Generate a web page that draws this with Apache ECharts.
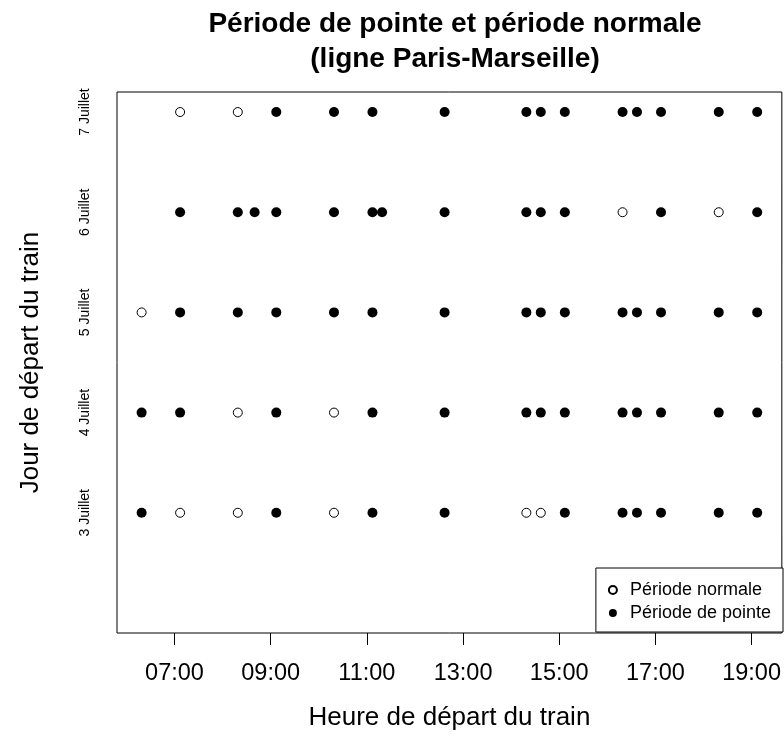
<!DOCTYPE html>
<html>
<head>
<meta charset="utf-8">
<script src="https://cdn.jsdelivr.net/npm/echarts@6/dist/echarts.min.js"></script>
<style>
html,body{margin:0;padding:0;background:#fff;}
#chart{width:784px;height:745px;}
</style>
</head>
<body>
<div id="chart"></div>
<script>
// Days (y categories, bottom to top)
const days = ['3 Juillet', '4 Juillet', '5 Juillet', '6 Juillet', '7 Juillet'];
// X tick labels
const xTicks = ['07:00', '09:00', '11:00', '13:00', '15:00', '17:00', '19:00'];

// Departure times per day: normal period (open circles)
const normal3 = ['07:07', '08:19', '10:19', '14:19', '14:37'];
const normal4 = ['08:19', '10:19'];
const normal5 = ['06:19'];
const normal6 = ['16:19', '18:19'];
const normal7 = ['07:07', '08:19'];

// Departure times per day: peak period (filled circles)
const pointe3 = ['06:19', '09:07', '11:07', '12:37', '15:07', '16:19', '16:37', '17:07', '18:19', '19:07'];
const pointe4 = ['06:19', '07:07', '09:07', '11:07', '12:37', '14:19', '14:37', '15:07', '16:19', '16:37', '17:07', '18:19', '19:07'];
const pointe5 = ['07:07', '08:19', '09:07', '10:19', '11:07', '12:37', '14:19', '14:37', '15:07', '16:19', '16:37', '17:07', '18:19', '19:07'];
const pointe6 = ['07:07', '08:19', '08:40', '09:07', '10:19', '11:07', '11:19', '12:37', '14:19', '14:37', '15:07', '17:07', '19:07'];
const pointe7 = ['09:07', '10:19', '11:07', '12:37', '14:19', '14:37', '15:07', '16:19', '16:37', '17:07', '18:19', '19:07'];

const normalByDay = [normal3, normal4, normal5, normal6, normal7];
const pointeByDay = [pointe3, pointe4, pointe5, pointe6, pointe7];

function toHours(s) { const p = s.split(':'); return +p[0] + (+p[1]) / 60; }
function build(byDay) {
  const out = [];
  byDay.forEach((arr, i) => arr.forEach(t => out.push([toHours(t), i + 1])));
  return out;
}
const normalData = build(normalByDay);
const pointeData = build(pointeByDay);

// R-style 4% axis extension
const allX = normalData.concat(pointeData).map(d => d[0]);
const xLo = Math.min(...allX), xHi = Math.max(...allX);
const xExt = (xHi - xLo) * 0.04;
const yExt = 5 * 0.04;

const FONT = '"Liberation Sans", Arial, sans-serif';
const chart = echarts.init(document.getElementById('chart'), null, { renderer: 'canvas' });
chart.setOption({
  animation: false,
  backgroundColor: '#fff',
  title: {
    text: 'Période de pointe et période normale\n(ligne Paris-Marseille)',
    left: 450,
    top: 2,
    textAlign: 'center',
    textStyle: { fontFamily: FONT, fontWeight: 'bold', fontSize: 28, lineHeight: 35, color: '#000' }
  },
  grid: {
    left: 117, right: 1, top: 92, bottom: 112,
    show: true, borderColor: '#000', borderWidth: 1, backgroundColor: 'transparent'
  },
  legend: {
    orient: 'vertical',
    right: 1,
    top: 568,
    backgroundColor: '#fff',
    borderColor: '#000',
    borderWidth: 1,
    borderRadius: 0,
    padding: [13, 12, 10, 12],
    itemWidth: 8,
    itemHeight: 8,
    itemGap: 5,
    z: 10,
    textStyle: { fontFamily: FONT, fontSize: 18, lineHeight: 18, color: '#000', padding: [0, 0, 0, 8] },
    data: ['Période normale', 'Période de pointe']
  },
  xAxis: {
    type: 'value',
    min: xLo - xExt,
    max: xHi + xExt,
    name: 'Heure de départ du train',
    nameLocation: 'middle',
    nameGap: 72,
    nameTextStyle: { fontFamily: FONT, fontSize: 26, color: '#000' },
    axisLine: { show: false, onZero: false },
    axisTick: { show: true, length: 12, lineStyle: { color: '#000', width: 1 }, customValues: xTicks.map(toHours) },
    axisLabel: {
      customValues: xTicks.map(toHours),
      margin: 29,
      fontFamily: FONT, fontSize: 23.5, color: '#000',
      formatter: v => { const h = Math.round(v); return (h < 10 ? '0' : '') + h + ':00'; }
    },
    splitLine: { show: false }
  },
  yAxis: {
    type: 'value',
    min: 0 - yExt,
    max: 5 + yExt,
    name: 'Jour de départ du train',
    nameLocation: 'middle',
    nameGap: 73,
    nameTextStyle: { fontFamily: FONT, fontSize: 26, color: '#000' },
    axisLine: { show: false, onZero: false },
    axisTick: { show: false },
    axisLabel: {
      customValues: [1, 2, 3, 4, 5],
      rotate: 90,
      margin: 25,
      fontFamily: FONT, fontSize: 14, color: '#000',
      formatter: v => days[Math.round(v) - 1] || ''
    },
    splitLine: { show: false }
  },
  series: [
    {
      name: 'Période normale',
      type: 'scatter',
      symbol: 'circle',
      symbolSize: 9,
      itemStyle: { color: '#fff', borderColor: '#000', borderWidth: 1, opacity: 1 },
      data: normalData
    },
    {
      name: 'Période de pointe',
      type: 'scatter',
      symbol: 'circle',
      symbolSize: 10,
      itemStyle: { color: '#000', opacity: 1 },
      data: pointeData
    }
  ]
});
</script>
</body>
</html>
